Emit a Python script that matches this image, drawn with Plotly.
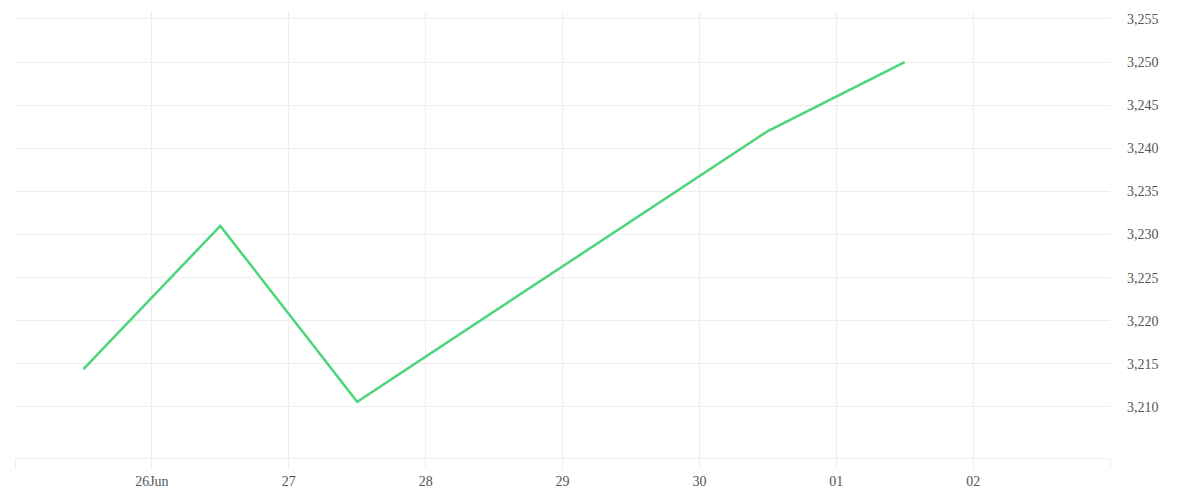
import plotly.graph_objects as go

dates = ["2025-06-25 12:00", "2025-06-26 12:00", "2025-06-27 12:00", "2025-06-30 12:00", "2025-07-01 12:00"]
values = [3214.4, 3231.0, 3210.6, 3242.0, 3250.0]

tick_dates = ["2025-06-25", "2025-06-26", "2025-06-27", "2025-06-28", "2025-06-29",
              "2025-06-30", "2025-07-01", "2025-07-02", "2025-07-03"]
tick_labels = ["", "26Jun", "27", "28", "29", "30", "01", "02", ""]
y_ticks = [3210, 3215, 3220, 3225, 3230, 3235, 3240, 3245, 3250, 3255]
y_labels = ["3,210", "3,215", "3,220", "3,225", "3,230", "3,235", "3,240", "3,245", "3,250", "3,255"]

fig = go.Figure()
fig.add_trace(go.Scatter(x=dates, y=values, mode="lines",
                         line=dict(color="#4cd57b", width=2.5), hoverinfo="skip"))

font = dict(family="Liberation Serif", size=14, color="#555")
grid = "#eeeeee"
fig.update_layout(
    width=1192, height=492,
    margin=dict(l=7, r=90, t=4, b=42),
    paper_bgcolor="white", plot_bgcolor="white",
    showlegend=False,
    font=font,
    xaxis=dict(
        type="date",
        range=["2025-06-25", "2025-07-03"],
        tickmode="array", tickvals=tick_dates, ticktext=tick_labels,
        showgrid=True, gridcolor=grid, gridwidth=1,
        ticks="outside", ticklen=10, tickcolor=grid, tickwidth=1,
        showline=True, linecolor=grid, linewidth=1,
        zeroline=False, tickfont=font,
    ),
    yaxis=dict(
        side="right",
        range=[3204.08, 3255.81],
        tickmode="array", tickvals=y_ticks, ticktext=y_labels,
        showgrid=True, gridcolor=grid, gridwidth=1,
        ticks="", ticklabelstandoff=16,
        showline=False, zeroline=False, tickfont=font,
    ),
)

fig.write_html("out.html")
